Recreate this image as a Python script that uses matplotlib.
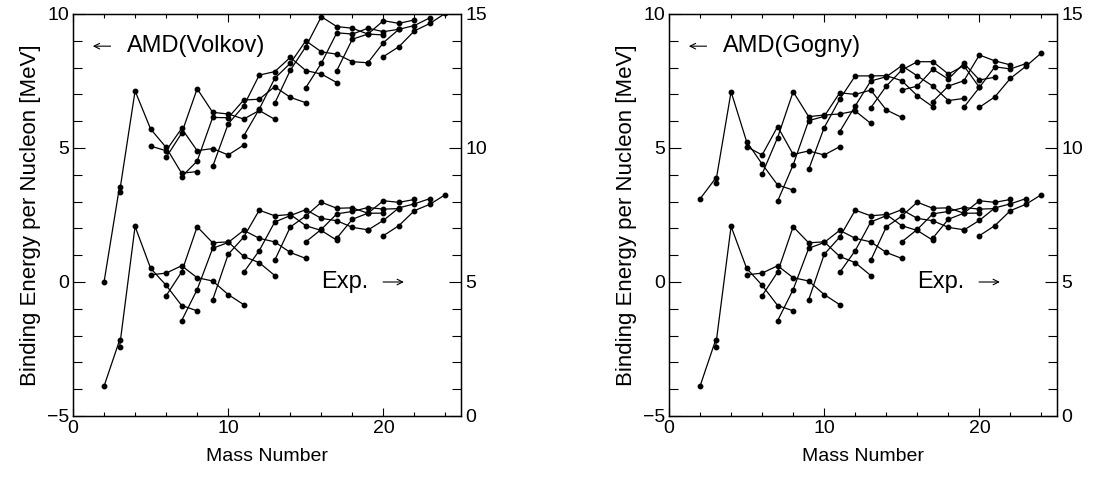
import matplotlib
matplotlib.use("Agg")
import matplotlib.pyplot as plt
from matplotlib.ticker import MultipleLocator

plt.rcParams["font.family"] = ["Liberation Sans", "DejaVu Sans"]

ELEMENTS = ["H", "He", "Li", "Be", "B", "C", "N", "O", "F", "Ne", "Na", "Mg"]

# mass numbers of the isotopes drawn for each element
MASS = {
    "H": [2, 3],
    "He": [3, 4, 5, 6, 7, 8],
    "Li": [5, 6, 7, 8, 9, 10, 11],
    "Be": [6, 7, 8, 9, 10, 11, 12, 13],
    "B": [7, 8, 9, 10, 11, 12, 13, 14, 15],
    "C": [9, 10, 11, 12, 13, 14, 15, 16, 17],
    "N": [11, 12, 13, 14, 15, 16, 17, 18, 19],
    "O": [13, 14, 15, 16, 17, 18, 19, 20],
    "F": [15, 16, 17, 18, 19, 20, 21],
    "Ne": [17, 18, 19, 20, 21, 22],
    "Na": [19, 20, 21, 22, 23],
    "Mg": [20, 21, 22, 23, 24],
}

# experimental binding energy per nucleon [MeV] (right axis)
EXP = {
    "H": [1.112, 2.827],
    "He": [2.573, 7.074, 5.512, 4.878, 4.123, 3.925],
    "Li": [5.266, 5.332, 5.606, 5.160, 5.038, 4.531, 4.155],
    "Be": [4.487, 5.371, 7.062, 6.463, 6.498, 5.953, 5.721, 5.241],
    "B": [3.559, 4.717, 6.257, 6.475, 6.928, 6.631, 6.496, 6.102, 5.880],
    "C": [4.337, 6.032, 6.676, 7.680, 7.470, 7.520, 7.100, 6.922, 6.558],
    "N": [5.358, 6.170, 7.239, 7.476, 7.699, 7.374, 7.286, 7.038, 6.949],
    "O": [5.812, 7.052, 7.464, 7.976, 7.751, 7.767, 7.566, 7.569],
    "F": [6.497, 6.964, 7.542, 7.632, 7.779, 7.720, 7.738],
    "Ne": [6.640, 7.341, 7.567, 8.032, 7.972, 8.080],
    "Na": [6.938, 7.299, 7.766, 7.916, 8.112],
    "Mg": [6.728, 7.105, 7.663, 7.901, 8.261],
}

# AMD with Volkov force (left axis)
VOLKOV = {
    "H": [0.0, 3.56],
    "He": [3.35, 7.13, 5.71, 5.02, 4.06, 4.12],
    "Li": [5.07, 4.90, 5.73, 4.90, 4.98, 4.74, 5.11],
    "Be": [4.65, 5.55, 7.21, 6.33, 6.27, 6.08, 6.40, 6.07],
    "B": [3.93, 4.51, 6.14, 6.13, 6.79, 6.82, 7.29, 6.89, 6.69],
    "C": [4.31, 5.90, 6.57, 7.72, 7.85, 8.38, 7.89, 7.76, 7.44],
    "N": [5.45, 6.45, 7.60, 8.16, 9.00, 8.59, 8.50, 8.22, 8.18],
    "O": [6.67, 7.90, 8.78, 9.90, 9.53, 9.47, 9.25, 9.22],
    "F": [7.25, 8.16, 9.30, 9.25, 9.47, 9.34, 9.43],
    "Ne": [7.89, 9.06, 9.25, 9.75, 9.65, 9.78],
    "Na": [8.18, 8.93, 9.43, 9.57, 9.86],
    "Mg": [8.41, 8.78, 9.37, 9.65, 10.03],
}

# AMD with Gogny force (left axis)
GOGNY = {
    "H": [3.10, 3.87],
    "He": [3.68, 7.10, 5.24, 4.40, 3.62, 3.43],
    "Li": [5.05, 4.74, 5.80, 4.76, 4.89, 4.74, 5.05],
    "Be": [4.03, 5.39, 7.10, 6.17, 6.23, 6.27, 6.38, 5.92],
    "B": [3.02, 4.37, 6.02, 6.18, 7.06, 7.00, 7.16, 6.42, 6.14],
    "C": [4.20, 5.76, 6.82, 7.69, 7.69, 7.70, 7.51, 6.95, 6.54],
    "N": [5.61, 6.57, 7.50, 7.66, 8.07, 7.69, 7.31, 6.77, 6.85],
    "O": [6.50, 7.31, 7.91, 8.22, 8.22, 7.76, 8.07, 7.26],
    "F": [7.16, 7.31, 7.94, 7.57, 8.16, 7.54, 7.64],
    "Ne": [6.73, 7.31, 7.51, 8.47, 8.25, 8.10],
    "Na": [6.52, 7.26, 8.03, 7.95, 8.15],
    "Mg": [6.52, 6.91, 7.60, 8.05, 8.55],
}


def draw_chains(ax, values):
    for el in ELEMENTS:
        ax.plot(MASS[el], values[el], "-o", color="black", lw=0.9, ms=3.2)


def style_panel(ax, ax2):
    ax.set_xlim(0, 25)
    ax.set_ylim(-5, 10)
    ax2.set_ylim(0, 15)
    ax.xaxis.set_major_locator(MultipleLocator(10))
    ax.xaxis.set_minor_locator(MultipleLocator(2))
    ax.yaxis.set_major_locator(MultipleLocator(5))
    ax.yaxis.set_minor_locator(MultipleLocator(1))
    ax2.yaxis.set_major_locator(MultipleLocator(5))
    ax2.yaxis.set_minor_locator(MultipleLocator(1))
    ax.tick_params(axis="x", which="both", direction="in", top=True, labelsize=14, pad=3)
    ax.tick_params(axis="x", which="major", length=5.8, width=0.8)
    ax.tick_params(axis="x", which="minor", length=2.9, width=0.8)
    ax.tick_params(axis="y", which="both", direction="in", right=False, labelsize=14, pad=3)
    ax.tick_params(axis="y", which="major", length=8.6, width=0.8)
    ax.tick_params(axis="y", which="minor", length=6.5, width=0.8)
    ax2.tick_params(axis="y", which="both", direction="in", labelsize=14, pad=3)
    ax2.tick_params(axis="y", which="major", length=8.6, width=0.8)
    ax2.tick_params(axis="y", which="minor", length=6.5, width=0.8)
    ax.set_xlabel("Mass Number", fontsize=14, labelpad=8)
    ax.set_ylabel("Binding Energy per Nucleon [MeV]", fontsize=16, labelpad=4)
    for sp in ax.spines.values():
        sp.set_linewidth(1.0)


def label_panel(ax, ax2, name):
    ax.annotate("", xy=(1.1, 8.8), xytext=(2.6, 8.8),
                arrowprops=dict(arrowstyle="->", lw=0.8, color="black"))
    ax.text(3.5, 8.8, name, fontsize=17, ha="left", va="center")
    ax2.text(16.0, 5.0, "Exp.", fontsize=17, ha="left", va="center")
    ax2.annotate("", xy=(21.5, 5.0), xytext=(19.8, 5.0),
                 arrowprops=dict(arrowstyle="->", lw=0.8, color="black"))


fig = plt.figure(figsize=(11.17, 4.84), dpi=100)
W, H = 1117, 484
panels = [(73, VOLKOV, "AMD(Volkov)"), (669, GOGNY, "AMD(Gogny)")]
for left, amd, name in panels:
    ax = fig.add_axes([left / W, (H - 416) / H, 388 / W, 402 / H])
    ax2 = ax.twinx()
    draw_chains(ax, amd)
    draw_chains(ax2, EXP)
    style_panel(ax, ax2)
    label_panel(ax, ax2, name)

fig.savefig("out.png", dpi=100)
